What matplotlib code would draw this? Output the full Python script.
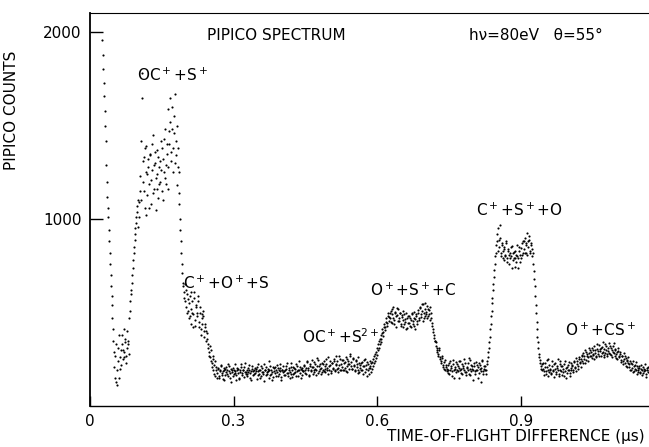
"""
PIPICO spectrum: liczba koincydencji w funkcji różnicy czasów przelotu.
Wartości odczytane ręcznie z wykresu; dwie serie kanałów przesunięte o pół kroku.
"""

import matplotlib
matplotlib.use("Agg")
import matplotlib.pyplot as plt
import numpy as np

T_START = 0.026   # pierwszy kanał (us)
T_STEP = 0.002    # odstęp kanałów w jednej serii (us)

COUNTS_A = [
    1960, 1800, 1660, 1500, 1290, 1120, 1010, 880, 760, 640,
    540, 410, 290, 150, 330, 110, 240, 380, 200, 300,
    330, 250, 410, 290, 360, 270, 400, 330, 470, 560,
    620, 700, 780, 850, 920, 980, 1040, 1100, 1010, 1150,
    1420, 1780, 1200, 1330, 1060, 1250, 1390, 1130, 1280, 1190,
    1340, 1080, 1260, 1450, 1160, 1300, 1220, 1370, 1110, 1280,
    1200, 1420, 1150, 1320, 1250, 1480, 1190, 1350, 1280, 1590,
    1400, 1650, 1310, 1480, 1380, 1550, 1300, 1420, 1180, 1380,
    1250, 1000, 880, 760, 660, 610, 560, 620, 500, 570,
    470, 590, 520, 440, 560, 490, 610, 430, 530, 480,
    560, 420, 500, 380, 470, 480, 400, 420, 350, 390,
    330, 290, 260, 300, 230, 250, 190, 220, 160, 210,
    # linia bazowa
    175, 205, 150, 190, 220, 165, 185, 140, 200, 180,
    195, 160, 215, 175, 130, 190, 205, 170, 225, 185,
    165, 190, 200, 145, 180, 210, 175, 195, 155, 230,
    180, 170, 205, 190, 150, 185, 215, 165, 195, 175,
    200, 145, 185, 225, 170, 190, 160, 205, 180, 135,
    190, 210, 170, 185, 240, 165, 195, 180, 155, 205,
    175, 195, 220, 160, 190, 185, 205, 140, 195, 215,
    185, 165, 200, 230, 175, 195, 150, 210, 190, 170,
    205, 180, 160, 215, 190, 240, 175, 200, 165, 195,
    185, 220, 195, 170, 235, 205, 160, 215, 190, 245,
    210, 180, 225, 195, 255, 175, 215, 200, 170, 230,
    195, 240, 215, 180, 225, 205, 260, 190, 220, 175,
    230, 200, 250, 185, 220, 240, 205, 270, 195, 225,
    210, 245, 190, 235, 260, 215, 180, 240, 225, 280,
    235, 200, 255, 220, 190, 245, 210, 175, 230, 205,
    190, 235, 170, 215, 250, 200, 160, 225, 205, 240,
    # O+ + S+ + C
    205, 180, 235, 215, 265, 240, 290, 275, 330, 310,
    360, 340, 390, 375, 420, 405, 450, 430, 480, 455,
    470, 510, 445, 490, 530, 460, 500, 420, 485, 520,
    455, 495, 430, 475, 510, 440, 465, 500, 415, 480,
    445, 470, 420, 490, 455, 505, 430, 465, 480, 440,
    500, 460, 530, 475, 510, 545, 470, 520, 490, 535,
    480, 515, 460, 500, 445, 410, 380, 350, 340, 310,
    290, 270, 300, 250, 230, 255, 210, 235, 190, 220,
    200, 175, 230, 190, 215, 160, 245, 195, 210, 180,
    225, 185, 205, 150, 240, 200, 170, 215, 190, 230,
    180, 210, 195, 255, 165, 220, 200, 140, 215, 185,
    235, 190, 210, 175, 220, 130, 205, 245, 185, 200,
    # C+ + S+ + O
    215, 170, 240, 290, 340, 410, 480, 550, 620, 690,
    760, 820, 880, 950, 850, 900, 800, 870, 830, 780,
    850, 810, 870, 790, 840, 760, 820, 800, 855, 780,
    825, 745, 810, 860, 790, 830, 770, 845, 805, 880,
    840, 900, 820, 870, 925, 850, 890, 830, 860, 800,
    760, 680, 590, 500, 410, 340, 280, 245, 215, 190,
    230, 185, 210, 170, 245, 195, 160, 220, 200, 175,
    215, 190, 155, 230, 180, 205, 250, 170, 195, 215,
    165, 200, 225, 185, 150, 210, 190, 235, 175, 205,
    # O+ + CS+
    195, 220, 180, 240, 210, 255, 225, 200, 260, 235,
    250, 275, 230, 265, 300, 245, 280, 260, 310, 270,
    290, 255, 300, 275, 320, 285, 260, 305, 280, 325,
    295, 270, 315, 290, 260, 330, 300, 280, 310, 285,
    320, 275, 300, 290, 335, 265, 305, 280, 250, 295,
    260, 280, 235, 265, 225, 250, 270, 215, 245, 230,
    210, 240, 195, 225, 180, 215, 200, 235, 170, 205,
    190, 215, 175, 200, 165, 210, 185, 195, 155, 205,
    180,
]

# kanały przesunięte o T_STEP / 2
COUNTS_B = [
    1880, 1730, 1580, 1420, 1200, 1060, 940, 820, 700, 590,
    470, 350, 210, 270, 130, 190, 310, 150, 260, 220,
    380, 300, 260, 340, 230, 310, 350, 280, 510, 600,
    660, 740, 820, 890, 950, 1010, 1070, 960, 1090, 1230,
    1100, 1650, 1310, 1150, 1380, 1020, 1240, 1320, 1060, 1350,
    1210, 1400, 1140, 1290, 1360, 1050, 1240, 1160, 1330, 1190,
    1310, 1260, 1380, 1100, 1430, 1220, 1290, 1400, 1160, 1470,
    1520, 1360, 1600, 1250, 1460, 1670, 1340, 1500, 1280, 1140,
    1080, 940, 820, 710, 640, 580, 650, 530, 600, 510,
    550, 480, 610, 500, 420, 580, 460, 540, 500, 590,
    450, 530, 410, 490, 440, 510, 370, 440, 400, 360,
    310, 270, 320, 240, 210, 270, 170, 240, 195, 150,
    # linia bazowa
    200, 160, 185, 215, 175, 145, 205, 190, 165, 210,
    170, 225, 185, 150, 200, 180, 160, 195, 175, 140,
    205, 175, 150, 190, 225, 165, 190, 210, 180, 170,
    160, 195, 180, 220, 175, 140, 200, 185, 170, 205,
    185, 210, 165, 195, 150, 215, 180, 170, 225, 190,
    165, 180, 200, 150, 195, 215, 170, 140, 210, 185,
    210, 160, 180, 205, 170, 225, 155, 190, 180, 165,
    195, 215, 175, 160, 205, 180, 230, 170, 155, 210,
    175, 200, 225, 185, 160, 195, 210, 150, 205, 185,
    215, 175, 205, 240, 190, 165, 225, 185, 210, 170,
    190, 235, 200, 165, 215, 245, 185, 225, 205, 180,
    225, 185, 200, 250, 195, 170, 215, 240, 185, 230,
    205, 240, 190, 225, 265, 200, 180, 220, 250, 190,
    245, 195, 230, 205, 185, 250, 225, 200, 265, 215,
    200, 250, 215, 185, 240, 225, 195, 260, 180, 220,
    230, 195, 215, 245, 180, 220, 235, 190, 170, 215,
    # O+ + S+ + C
    230, 200, 250, 230, 280, 255, 310, 300, 345, 330,
    380, 360, 410, 395, 440, 425, 470, 445, 500, 475,
    495, 450, 520, 470, 440, 505, 480, 525, 455, 470,
    500, 440, 485, 460, 425, 490, 450, 410, 470, 445,
    480, 430, 460, 500, 440, 470, 410, 490, 455, 515,
    470, 525, 490, 545, 455, 500, 480, 550, 505, 470,
    520, 490, 530, 470, 430, 395, 365, 345, 320, 300,
    280, 310, 260, 240, 270, 220, 200, 245, 210, 185,
    220, 195, 170, 240, 205, 185, 225, 150, 200, 235,
    190, 215, 240, 195, 175, 225, 205, 250, 180, 165,
    205, 230, 170, 200, 245, 185, 215, 195, 230, 170,
    195, 220, 150, 230, 200, 185, 240, 170, 215, 190,
    # C+ + S+ + O
    195, 225, 260, 310, 370, 440, 510, 580, 650, 730,
    800, 860, 920, 830, 890, 970, 820, 860, 790, 840,
    800, 880, 770, 830, 810, 790, 850, 740, 820, 790,
    790, 830, 770, 800, 740, 850, 810, 790, 870, 820,
    880, 820, 860, 810, 880, 910, 820, 870, 840, 820,
    720, 640, 540, 450, 370, 310, 260, 230, 200, 225,
    200, 165, 230, 185, 210, 250, 180, 195, 170, 240,
    185, 225, 200, 170, 215, 190, 160, 225, 240, 185,
    215, 180, 160, 240, 205, 175, 220, 195, 160, 230,
    # O+ + CS+
    215, 190, 235, 205, 185, 240, 215, 250, 230, 210,
    265, 240, 285, 250, 230, 290, 270, 240, 285, 300,
    265, 310, 280, 250, 300, 270, 330, 295, 265, 305,
    310, 285, 340, 275, 305, 285, 320, 265, 295, 335,
    280, 310, 260, 320, 285, 300, 255, 290, 310, 270,
    290, 245, 270, 240, 285, 230, 255, 240, 210, 260,
    225, 195, 230, 205, 240, 185, 220, 195, 215, 180,
    205, 180, 220, 190, 175, 200, 225, 170, 190, 210,
    195,
]

PEAK_LABELS = [
    r"OC$^+$+S$^+$",
    r"C$^+$+O$^+$+S",
    r"OC$^+$+S$^{2+}$",
    r"O$^+$+S$^+$+C",
    r"C$^+$+S$^+$+O",
    r"O$^+$+CS$^+$",
]
LABEL_X = [0.098, 0.194, 0.443, 0.585, 0.807, 0.993]
LABEL_Y = [1771, 658, 369, 620, 1048, 406]

X_TICKS = [0, 0.3, 0.6, 0.9]
X_TICK_LABELS = ["0", "0.3", "0.6", "0.9"]
Y_TICKS = [1000, 2000]

plt.rcParams.update({
    "font.family": "DejaVu Sans",
    "font.size": 11,
})

counts_a = np.array(COUNTS_A, dtype=float)
counts_b = np.array(COUNTS_B, dtype=float)
tof_a = T_START + T_STEP * np.arange(len(counts_a))
tof_b = T_START + T_STEP / 2 + T_STEP * np.arange(len(counts_b))

fig = plt.figure(figsize=(6.49, 4.47), dpi=100)
ax = fig.add_axes([90 / 649, 1 - 406 / 447, 559 / 649, 393 / 447])

for tof, counts in ((tof_a, counts_a), (tof_b, counts_b)):
    ax.scatter(tof, counts, s=2.4, c="black", marker="o", linewidths=0)

for label, lx, ly in zip(PEAK_LABELS, LABEL_X, LABEL_Y):
    ax.text(lx, ly, label, ha="left", va="center", fontsize=11)

ax.text(0.245, 1980, "PIPICO SPECTRUM", ha="left", va="center", fontsize=11)
ax.text(0.792, 1980, "hν=80eV   θ=55°", ha="left", va="center", fontsize=11)

ax.set_xlim(0, 1.168)
ax.set_ylim(0, 2102)
ax.set_xticks(X_TICKS)
ax.set_xticklabels(X_TICK_LABELS)
ax.set_yticks(Y_TICKS)
ax.tick_params(axis="x", direction="in", length=7, width=1.0, pad=6, labelsize=11)
ax.tick_params(axis="y", direction="in", length=9, width=1.0, pad=6, labelsize=11)

ax.spines["right"].set_visible(False)
ax.spines["left"].set_linewidth(1.3)
ax.spines["bottom"].set_linewidth(1.0)
ax.spines["top"].set_linewidth(0.8)

fig.text(12 / 649, 1 - 110 / 447, "PIPICO COUNTS", rotation=90,
         ha="center", va="center", fontsize=11)
fig.text(645 / 649, 1 - 437 / 447, "TIME-OF-FLIGHT DIFFERENCE (µs)",
         ha="right", va="center", fontsize=11)

fig.savefig("out.png", dpi=100)
